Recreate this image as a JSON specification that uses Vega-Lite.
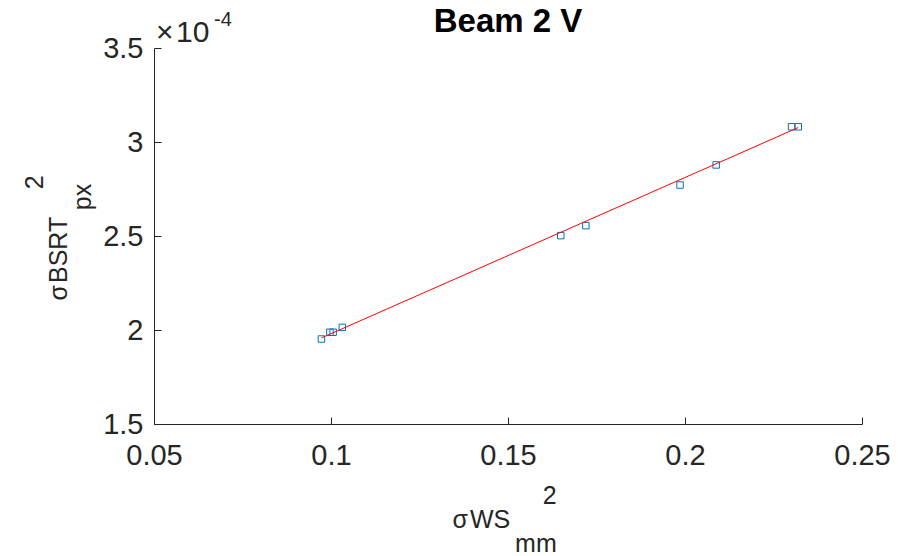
{
  "$schema": "https://vega.github.io/schema/vega-lite/v6.json",
  "width": 708,
  "height": 376,
  "autosize": {"type": "none"},
  "padding": {"left": 154, "top": 48, "right": 36, "bottom": 132},
  "background": "white",
  "title": {"text": "Beam 2 V", "fontSize": 33, "fontWeight": "bold", "font": "Liberation Sans", "color": "#000000", "offset": 7, "dy": 36, "anchor": "middle"},
  "config": {
    "view": {"stroke": null},
    "font": "Liberation Sans",
    "axis": {
      "grid": false,
      "domainColor": "#262626",
      "domainWidth": 1,
      "tickColor": "#262626",
      "tickSize": -7,
      "tickWidth": 1,
      "labelColor": "#262626",
      "labelFont": "Liberation Sans",
      "labelFontSize": 29,
      "labelOverlap": false,
      "labelFlush": false,
      "labelBound": false,
      "titleColor": "#262626",
      "titleFont": "Liberation Sans",
      "titleFontWeight": "normal",
      "titleFontSize": 25,
      "titleLineHeight": 24
    }
  },
  "layer": [
    {
      "data": {"values": [
        {"ws_sigma_sq": 0.0973, "bsrt_sigma_sq": 0.0001952},
        {"ws_sigma_sq": 0.0997, "bsrt_sigma_sq": 0.0001988},
        {"ws_sigma_sq": 0.1006, "bsrt_sigma_sq": 0.0001988},
        {"ws_sigma_sq": 0.1032, "bsrt_sigma_sq": 0.0002014},
        {"ws_sigma_sq": 0.1649, "bsrt_sigma_sq": 0.0002502},
        {"ws_sigma_sq": 0.1720, "bsrt_sigma_sq": 0.0002555},
        {"ws_sigma_sq": 0.1986, "bsrt_sigma_sq": 0.0002771},
        {"ws_sigma_sq": 0.2088, "bsrt_sigma_sq": 0.0002878},
        {"ws_sigma_sq": 0.2301, "bsrt_sigma_sq": 0.0003081},
        {"ws_sigma_sq": 0.2320, "bsrt_sigma_sq": 0.0003081}
      ]},
      "mark": {"type": "point", "shape": "square", "filled": false, "size": 42, "strokeWidth": 1, "color": "#0072BD", "opacity": 1},
      "encoding": {
        "x": {
          "field": "ws_sigma_sq", "type": "quantitative",
          "scale": {"domain": [0.05, 0.25], "nice": false, "zero": false},
          "axis": {
            "values": [0.05, 0.1, 0.15, 0.2, 0.25],
            "format": "~g",
            "labelPadding": 24,
            "title": ["\u200b\u2007\u2007\u2007\u2007\u2007\u2007\u20082", "σ\u200aWS", "\u200b\u2007\u2007\u2007\u2007\u2008mm"],
            "titleAlign": "left",
            "titleAnchor": "start",
            "titleBaseline": "top",
            "titleX": 298,
            "titleY": 59
          }
        },
        "y": {
          "field": "bsrt_sigma_sq", "type": "quantitative",
          "scale": {"domain": [0.00015, 0.00035], "nice": false, "zero": false},
          "axis": {
            "values": [0.00015, 0.0002, 0.00025, 0.0003, 0.00035],
            "labelExpr": "format(datum.value * 10000, '~g')",
            "labelPadding": 18,
            "title": ["\u200b\u2007\u2007\u2007\u2007\u2007\u2007\u2007\u20072", "σ\u200aBSRT", "\u200b\u2007\u2007\u2007\u2007\u2007\u2007\u2008px"],
            "titleAngle": -90,
            "titleAlign": "left",
            "titleAnchor": "start",
            "titleBaseline": "top",
            "titleX": -132,
            "titleY": 252
          }
        }
      }
    },
    {
      "data": {"values": [
        {"ws_sigma_sq": 0.0973, "bsrt_sigma_sq": 0.0001958},
        {"ws_sigma_sq": 0.2320, "bsrt_sigma_sq": 0.0003077}
      ]},
      "mark": {"type": "line", "color": "#FF0000", "strokeWidth": 1},
      "encoding": {
        "x": {"field": "ws_sigma_sq", "type": "quantitative"},
        "y": {"field": "bsrt_sigma_sq", "type": "quantitative"}
      }
    },
    {
      "data": {"values": [{"label": "×\u200a10"}]},
      "mark": {"type": "text", "align": "left", "baseline": "alphabetic", "fontSize": 30, "font": "Liberation Sans", "color": "#262626", "dx": 2, "dy": -6},
      "encoding": {
        "x": {"datum": 0.05, "type": "quantitative"},
        "y": {"datum": 0.00035, "type": "quantitative"},
        "text": {"field": "label"}
      }
    },
    {
      "data": {"values": [{"label": "-4"}]},
      "mark": {"type": "text", "align": "left", "baseline": "alphabetic", "fontSize": 20, "font": "Liberation Sans", "color": "#262626", "dx": 60, "dy": -22},
      "encoding": {
        "x": {"datum": 0.05, "type": "quantitative"},
        "y": {"datum": 0.00035, "type": "quantitative"},
        "text": {"field": "label"}
      }
    }
  ]
}
